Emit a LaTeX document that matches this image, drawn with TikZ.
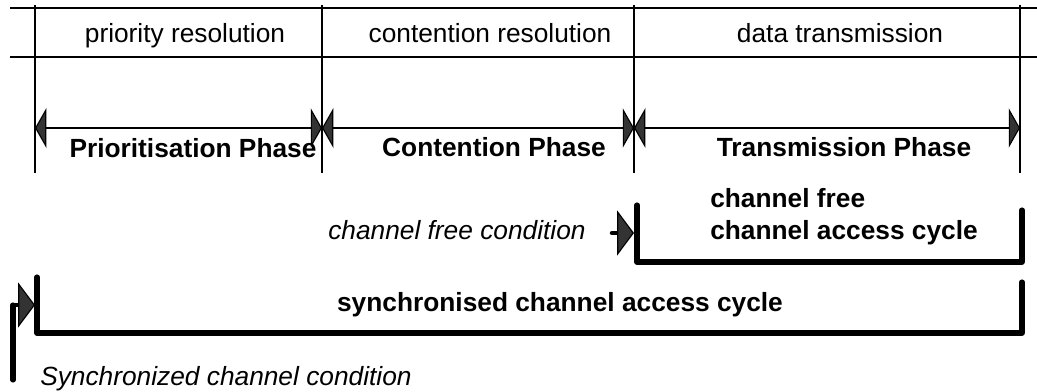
\documentclass[tikz,border=0pt]{standalone}
\usepackage{fontspec}
\setmainfont{Liberation Sans}
\usetikzlibrary{arrows.meta, positioning}
\tikzset {
    every node/.style={font=\fontsize{18.7}{22}\selectfont, inner sep=0pt},
    thinline/.style={line width=1.3pt},
    thickline/.style={line width=3.6pt, line cap=round, line join=round},
    phasearrow/.style={thinline, {Triangle[length=8pt, width=28pt, fill=black!80, line width=0.8pt]}-{Triangle[length=8pt, width=28pt, fill=black!80, line width=0.8pt]}},
    condarrow/.style={line width=3.2pt, line cap=round, -{Triangle[length=12pt, width=32pt, fill=black!80, line width=0.8pt]}},
    title/.style={anchor=base},
    phasename/.style={anchor=base, font=\fontsize{18.7}{22}\selectfont\bfseries},
    note/.style={anchor=base west, font=\fontsize{18.7}{22}\selectfont\itshape}
}
\begin{document}
\begin{tikzpicture}[x=0.025cm, y=-0.025cm]
    \useasboundingbox (0,0) rectangle (1037,392);

    \coordinate (l0) at (10,8);  \coordinate (r0) at (1037,8);
    \coordinate (l1) at (10,57); \coordinate (r1) at (1037,57);
    \draw[thinline] (l0) -- (r0) (l1) -- (r1);
    \foreach \x [count=\i from 0] in {35,322,634,1020} {
        \coordinate (t\i) at (\x,5);
        \coordinate (b\i) at (\x,173);
        \coordinate (a\i) at (\x,128);
        \draw[thinline] (t\i) -- (b\i);
    }
    \draw[phasearrow] (a0) -- (a1);
    \draw[phasearrow] (a1) -- (a2);
    \draw[phasearrow] (a2) -- (a3);

    \node[title] (pr) at (185,43) {priority resolution};
    \node[title] (cr) at (490,43) {contention resolution};
    \node[title] (dt) at (840,43) {data transmission};
    \node[phasename] (pp) at (193,158) {Prioritisation Phase};
    \node[phasename] (cp) at (494,157) {Contention Phase};
    \node[phasename] (tp) at (844,157) {Transmission Phase};

    \coordinate (f0) at (637,205); \coordinate (f1) at (637,262);
    \coordinate (f2) at (1022,262); \coordinate (f3) at (1022,210);
    \draw[thickline] (f0) -- (f1) -- (f2) -- (f3);
    \node[phasename, anchor=base west] (cf) at (710,208) {channel free};
    \node[phasename, anchor=base west] (cac) at (710,240) {channel access cycle};
    \node[note] (cfc) at (328,240) {channel free condition};
    \coordinate (c0) at (612,233); \coordinate (c1) at (634,233);
    \draw[condarrow] (c0) -- (c1);

    \coordinate (s0) at (37,277); \coordinate (s1) at (37,333);
    \coordinate (s2) at (1022,333); \coordinate (s3) at (1022,282);
    \draw[thickline] (s0) -- (s1) -- (s2) -- (s3);
    \node[phasename] (sac) at (560,312) {synchronised channel access cycle};
    \coordinate (v0) at (13,380); \coordinate (v1) at (13,305); \coordinate (v2) at (35,305);
    \draw[thickline] (v0) -- (v1);
    \draw[condarrow] (v1) -- (v2);
    \node[note] (scc) at (40,385) {Synchronized channel condition};
\end{tikzpicture}
\end{document}
